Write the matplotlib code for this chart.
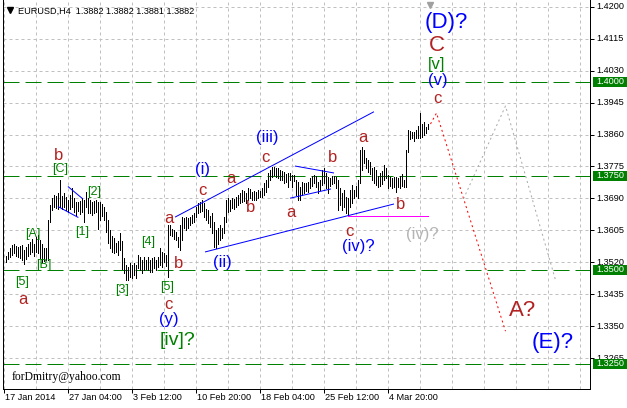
import numpy as np
import matplotlib
matplotlib.use('Agg')
import matplotlib.pyplot as plt
from matplotlib.patches import Rectangle

plt.rcParams['font.family'] = ['Liberation Sans', 'DejaVu Sans']

# EURUSD H4 bars (bar 1 .. 212)
highs = [
    1.3537, 1.3547, 1.3558, 1.3566, 1.3569, 1.3563, 1.3561, 1.3563, 1.3566, 1.3553,
    1.3561, 1.3569, 1.3574, 1.3582, 1.3569, 1.3587, 1.3593, 1.3579, 1.3569, 1.3558,
    1.3558, 1.3632, 1.3672, 1.3691, 1.3699, 1.3696, 1.3704, 1.3739, 1.3696, 1.3704,
    1.3694, 1.3686, 1.3699, 1.3718, 1.3691, 1.3680, 1.3680, 1.3683, 1.3691, 1.3686,
    1.3707, 1.3691, 1.3686, 1.3680, 1.3683, 1.3686, 1.3680, 1.3680, 1.3675, 1.3667,
    1.3654, 1.3632, 1.3606, 1.3590, 1.3585, 1.3571, 1.3577, 1.3598, 1.3577, 1.3532,
    1.3513, 1.3508, 1.3518, 1.3513, 1.3518, 1.3513, 1.3539, 1.3534, 1.3526, 1.3534,
    1.3526, 1.3534, 1.3526, 1.3532, 1.3534, 1.3526, 1.3534, 1.3558, 1.3547, 1.3545,
    1.3539, 1.3619, 1.3619, 1.3609, 1.3606, 1.3601, 1.3587, 1.3619, 1.3640, 1.3638,
    1.3640, 1.3638, 1.3640, 1.3646, 1.3651, 1.3667, 1.3678, 1.3680, 1.3686, 1.3678,
    1.3662, 1.3659, 1.3643, 1.3651, 1.3627, 1.3606, 1.3611, 1.3619, 1.3611, 1.3640,
    1.3686, 1.3691, 1.3686, 1.3691, 1.3688, 1.3694, 1.3699, 1.3704, 1.3712, 1.3710,
    1.3704, 1.3718, 1.3715, 1.3707, 1.3710, 1.3707, 1.3712, 1.3710, 1.3718, 1.3731,
    1.3739, 1.3758, 1.3766, 1.3774, 1.3774, 1.3771, 1.3771, 1.3766, 1.3763, 1.3760,
    1.3755, 1.3758, 1.3758, 1.3752, 1.3752, 1.3739, 1.3734, 1.3720, 1.3734, 1.3731,
    1.3731, 1.3734, 1.3744, 1.3750, 1.3752, 1.3750, 1.3734, 1.3739, 1.3766, 1.3771,
    1.3758, 1.3747, 1.3744, 1.3750, 1.3750, 1.3747, 1.3739, 1.3718, 1.3704, 1.3712,
    1.3694, 1.3691, 1.3712, 1.3726, 1.3712, 1.3723, 1.3739, 1.3819, 1.3827, 1.3819,
    1.3798, 1.3792, 1.3787, 1.3771, 1.3774, 1.3766, 1.3750, 1.3758, 1.3763, 1.3779,
    1.3771, 1.3752, 1.3747, 1.3744, 1.3747, 1.3747, 1.3744, 1.3750, 1.3755, 1.3739,
    1.3819, 1.3872, 1.3869, 1.3867, 1.3867, 1.3872, 1.3883, 1.3917, 1.3888, 1.3893,
    1.3880, 1.3888,
]
lows = [
    1.3521, 1.3529, 1.3534, 1.3539, 1.3545, 1.3537, 1.3534, 1.3532, 1.3526, 1.3516,
    1.3529, 1.3537, 1.3542, 1.3547, 1.3537, 1.3547, 1.3545, 1.3532, 1.3521, 1.3524,
    1.3526, 1.3526, 1.3627, 1.3659, 1.3667, 1.3664, 1.3662, 1.3667, 1.3662, 1.3667,
    1.3659, 1.3654, 1.3662, 1.3667, 1.3654, 1.3646, 1.3656, 1.3648, 1.3654, 1.3627,
    1.3667, 1.3651, 1.3651, 1.3646, 1.3651, 1.3654, 1.3609, 1.3632, 1.3643, 1.3632,
    1.3601, 1.3571, 1.3558, 1.3547, 1.3545, 1.3547, 1.3539, 1.3553, 1.3502, 1.3492,
    1.3473, 1.3473, 1.3481, 1.3478, 1.3486, 1.3478, 1.3505, 1.3500, 1.3492, 1.3500,
    1.3502, 1.3500, 1.3494, 1.3494, 1.3505, 1.3500, 1.3508, 1.3513, 1.3508, 1.3521,
    1.3510, 1.3481, 1.3593, 1.3590, 1.3582, 1.3579, 1.3561, 1.3553, 1.3579, 1.3611,
    1.3606, 1.3611, 1.3619, 1.3625, 1.3627, 1.3640, 1.3651, 1.3654, 1.3656, 1.3640,
    1.3632, 1.3625, 1.3614, 1.3598, 1.3561, 1.3558, 1.3569, 1.3579, 1.3585, 1.3598,
    1.3627, 1.3654, 1.3656, 1.3664, 1.3662, 1.3667, 1.3672, 1.3678, 1.3680, 1.3683,
    1.3678, 1.3686, 1.3691, 1.3686, 1.3686, 1.3686, 1.3691, 1.3694, 1.3694, 1.3699,
    1.3707, 1.3720, 1.3739, 1.3747, 1.3752, 1.3747, 1.3744, 1.3739, 1.3739, 1.3731,
    1.3734, 1.3720, 1.3739, 1.3720, 1.3736, 1.3699, 1.3686, 1.3686, 1.3699, 1.3704,
    1.3710, 1.3707, 1.3718, 1.3723, 1.3731, 1.3720, 1.3704, 1.3712, 1.3726, 1.3731,
    1.3718, 1.3704, 1.3723, 1.3728, 1.3731, 1.3718, 1.3659, 1.3672, 1.3659, 1.3667,
    1.3651, 1.3643, 1.3667, 1.3678, 1.3691, 1.3696, 1.3691, 1.3731, 1.3766, 1.3784,
    1.3771, 1.3760, 1.3755, 1.3739, 1.3731, 1.3726, 1.3720, 1.3723, 1.3728, 1.3739,
    1.3744, 1.3718, 1.3723, 1.3718, 1.3720, 1.3707, 1.3720, 1.3718, 1.3723, 1.3720,
    1.3720, 1.3814, 1.3848, 1.3851, 1.3843, 1.3851, 1.3851, 1.3851, 1.3853, 1.3859,
    1.3864, 1.3875,
]

time_labels = ['17 Jan 2014', '27 Jan 04:00', '3 Feb 12:00', '10 Feb 20:00',
               '18 Feb 04:00', '25 Feb 12:00', '4 Mar 20:00']
time_bars = [0, 32, 64, 96, 128, 160, 192]
price_ticks = [1.4200, 1.4115, 1.4030, 1.3945, 1.3860, 1.3775,
               1.3690, 1.3605, 1.3520, 1.3435, 1.3350, 1.3265]
levels = [1.4000, 1.3750, 1.3500, 1.3250]
header = 'EURUSD,H4  1.3882 1.3882 1.3881 1.3882'

# trend lines (bar, price)
blue_lines = [
    ([32.4, 39.4], [1.3721, 1.3690]),
    ([27.4, 37.2], [1.3668, 1.3640]),
    ([86, 185], [1.3641, 1.3920]),
    ([101, 195], [1.3548, 1.3675]),
    ([146, 165], [1.3776, 1.3758]),
    ([143.5, 163.5], [1.3691, 1.3715]),
]
magenta_line = ([172, 212], [1.3643, 1.3643])
red_path = ([213.5, 216.5, 251], [1.3888, 1.3917, 1.3337])
gray_path = ([230, 251, 276], [1.3689, 1.3936, 1.3473])

# wave labels (text, bar, price)
big_blue = [('(D)?', 221.5, 1.4159), ('(E)?', 274.5, 1.3306)]
big_red = [('C', 216.5, 1.4098), ('A?', 259.5, 1.3392)]
red_small = [('c', 217, 1.3955), ('b', 27.5, 1.3803), ('a', 9.5, 1.3420),
             ('c', 82.5, 1.3407), ('a', 82.5, 1.3638), ('b', 87.5, 1.3518),
             ('c', 99.5, 1.3712), ('a', 113.5, 1.3742), ('b', 123.5, 1.3667),
             ('c', 131, 1.3798), ('a', 143.5, 1.3652), ('b', 164.5, 1.3798),
             ('c', 173, 1.3601), ('a', 179.5, 1.3851), ('b', 198.5, 1.3675)]
blue_small = [('(v)', 217, 1.4005), ('(y)', 82.5, 1.3367), ('(i)', 99.5, 1.3766),
              ('(ii)', 109.5, 1.3521), ('(iii)', 132, 1.3853), ('(iv)?', 177.5, 1.3561)]
green_mid = [('[v]', 216.5, 1.4045, 12), ('[iv]?', 87, 1.3311, 14)]
gray_small = [('(iv)?', 209.5, 1.3595)]
green_small = [('[C]', 28.5, 1.3768), ('[A]', 14.5, 1.3595), ('[B]', 20, 1.3513),
               ('[5]', 9.5, 1.3468), ('[1]', 39.5, 1.3601), ('[2]', 45.5, 1.3707),
               ('[3]', 59.5, 1.3447), ('[4]', 72.5, 1.3574), ('[5]', 82, 1.3455)]

RED = '#b22222'
BLUE = '#0000ff'
GREEN = '#008000'
LW = 0.72  # one pixel at 100 dpi
PPX = 0.00026596  # price per pixel

W, H = 627, 408
fig = plt.figure(figsize=(W / 100, H / 100), dpi=100)
ax = fig.add_axes([3 / W, (H - 389) / H, 587 / W, 389 / H])
ax.set_xlim(-0.25, 293.25)
ax.set_ylim(1.318324, 1.421782)

# grid
for b in range(0, 293, 16):
    ax.axvline(b, color='#c0c0c0', lw=LW, dashes=(3, 3), zorder=0)
for p in price_ticks:
    ax.axhline(p, color='#c0c0c0', lw=LW, dashes=(3, 3), zorder=0)
for p in levels:
    ax.axhline(p, color=GREEN, lw=LW, dashes=(16, 6), zorder=1)

# bars
ax.vlines(np.arange(1, len(highs) + 1), lows, highs, color='black', lw=LW,
          antialiased=False, zorder=2)

for xs, ys in blue_lines:
    ax.plot(xs, ys, color=BLUE, lw=LW, zorder=3)
ax.plot(*magenta_line, color='#ff00ff', lw=LW, zorder=3)
ax.plot(*red_path, color='#ff0000', lw=LW, dashes=(2, 3), zorder=3)
ax.plot(*gray_path, color='#a9a9a9', lw=LW, dashes=(2, 3), zorder=3)

kw = dict(ha='center', va='center', zorder=4)
for t, x, y in big_blue:
    ax.text(x, y, t, color=BLUE, fontsize=16, **kw)
for t, x, y in big_red:
    ax.text(x, y, t, color=RED, fontsize=16, **kw)
for t, x, y in red_small:
    ax.text(x, y, t, color=RED, fontsize=12, **kw)
for t, x, y in blue_small:
    ax.text(x, y, t, color=BLUE, fontsize=12, **kw)
for t, x, y, s in green_mid:
    ax.text(x, y, t, color=GREEN, fontsize=s, **kw)
for t, x, y in gray_small:
    ax.text(x, y, t, color='#b4b4b4', fontsize=12, **kw)
for t, x, y in green_small:
    ax.text(x, y, t, color=GREEN, fontsize=9, **kw)

# header, shift marker, signature
ax.plot([(10 - 3) / 587], [1 - 10 / 389], marker='v', ms=4.3, color='black',
        transform=ax.transAxes, clip_on=False)
ax.text((18 - 3) / 587, 1 - 11 / 389, header, transform=ax.transAxes,
        fontsize=6.6, va='center', ha='left')
ax.plot([213.25], [1.420452], marker='v', ms=5, color='#a0a0a0', clip_on=False, zorder=5)
ax.text((12 - 3) / 587, 1 - 377 / 389, 'forDmitry@yahoo.com', transform=ax.transAxes,
        family='Liberation Serif', fontsize=8.4, va='center', ha='left')

# axes frame and ticks
ax.spines['top'].set_visible(False)
for s in ['left', 'right', 'bottom']:
    ax.spines[s].set_linewidth(LW)
ax.set_xticks(time_bars)
ax.yaxis.tick_right()
ax.set_yticks(price_ticks)
ax.tick_params(axis='both', length=2.9, width=LW, direction='out',
               labelbottom=False, labelright=False, labelleft=False)

ytr = ax.get_yaxis_transform()
for p in price_ticks:
    ax.text(1 + 6 / 587, p, f'{p:.4f}', transform=ytr, fontsize=6.6,
            ha='left', va='center', clip_on=False)
for p in levels:
    ax.add_patch(Rectangle((1 + 2.5 / 587, p - 5.2 * PPX), 0.1, 10.4 * PPX,
                           transform=ytr, fc=GREEN, ec='none', clip_on=False, zorder=6))
    ax.text(1 + 6 / 587, p, f'{p:.4f}', transform=ytr, fontsize=6.6, color='white',
            ha='left', va='center', clip_on=False, zorder=7)

xtr = ax.get_xaxis_transform()
for b, lbl in zip(time_bars, time_labels):
    ax.text(b + 0.6, -9 / 389, lbl, transform=xtr, fontsize=6.6,
            ha='left', va='center', clip_on=False)

fig.savefig('out.png', dpi=100, facecolor='white')
